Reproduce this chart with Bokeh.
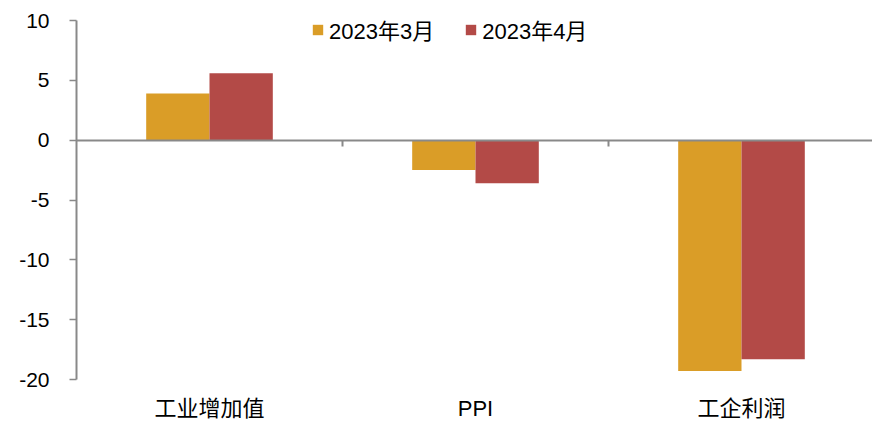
from bokeh.plotting import figure
from bokeh.models import Range1d, LinearAxis, FixedTicker, Legend, LegendItem, ColumnDataSource
from bokeh.transform import dodge
from bokeh.embed import file_html
from bokeh.resources import INLINE

categories = ["工业增加值", "PPI", "工企利润"]
series_names = ["2023年3月", "2023年4月"]
mar_values = [3.9, -2.5, -19.3]
apr_values = [5.6, -3.6, -18.3]
y_ticks = [-20, -15, -10, -5, 0, 5, 10]

colors = ["#DA9D27", "#B34A47"]
axis_color = "#898989"
font = "'Liberation Sans', 'Noto Sans CJK SC'"

n = len(categories)
centers = [i + 0.5 for i in range(n)]
boundaries = [i for i in range(1, n)]

src = ColumnDataSource(dict(x=centers, mar=mar_values, apr=apr_values))

p = figure(width=872, height=423, output_backend="svg", toolbar_location=None,
           x_range=Range1d(0, 2.9925), y_range=Range1d(-20, 10),
           min_border_left=76, min_border_right=0, min_border_top=20, min_border_bottom=43,
           x_axis_location=None, y_axis_location="left")
p.grid.visible = False
p.outline_line_color = None
p.background_fill_color = "white"

bw = 0.238
r1 = p.vbar(x=dodge("x", -bw / 2, range=p.x_range), top="mar", bottom=0, width=bw,
            source=src, fill_color=colors[0], line_color=None)
r2 = p.vbar(x=dodge("x", bw / 2, range=p.x_range), top="apr", bottom=0, width=bw,
            source=src, fill_color=colors[1], line_color=None)

# y axis
ya = p.yaxis[0]
ya.ticker = FixedTicker(ticks=y_ticks)
ya.major_label_overrides = {t: str(t) for t in y_ticks}
ya.major_tick_in = 0
ya.major_tick_out = 7
ya.minor_tick_line_color = None
ya.axis_line_color = axis_color
ya.axis_line_width = 2
ya.major_tick_line_color = axis_color
ya.major_tick_line_width = 1.5
ya.major_label_text_font = font
ya.major_label_text_font_size = "21px"
ya.major_label_text_color = "black"
ya.major_label_standoff = 20

# zero line axis with boundary ticks (no labels drawn)
zero_axis = LinearAxis(fixed_location=0, ticker=FixedTicker(ticks=boundaries),
                       major_label_text_font_size="1px", major_label_text_color=None,
                       major_label_standoff=0,
                       major_tick_in=0, major_tick_out=6, minor_tick_line_color=None,
                       axis_line_color=axis_color, axis_line_width=2,
                       major_tick_line_color=axis_color, major_tick_line_width=2)
p.add_layout(zero_axis, "below")

# category label axis
cat_axis = LinearAxis(ticker=FixedTicker(ticks=centers),
                      major_label_overrides={c: name for c, name in zip(centers, categories)},
                      axis_line_color=None, major_tick_line_color=None, minor_tick_line_color=None,
                      major_tick_in=0, major_tick_out=0, major_label_standoff=16,
                      major_label_text_font=font, major_label_text_font_size="22px",
                      major_label_text_color="black")
p.add_layout(cat_axis, "below")

legend = Legend(items=[LegendItem(label=series_names[0], renderers=[r1]),
                       LegendItem(label=series_names[1], renderers=[r2])],
                orientation="horizontal", location=(235, 334),
                border_line_color=None, background_fill_alpha=0,
                padding=0, margin=0, spacing=30, glyph_width=13, glyph_height=13,
                label_standoff=5, label_text_font=font, label_text_font_size="22px",
                label_text_color="black")
p.add_layout(legend)

open("out.html", "w").write(file_html(p, INLINE))
